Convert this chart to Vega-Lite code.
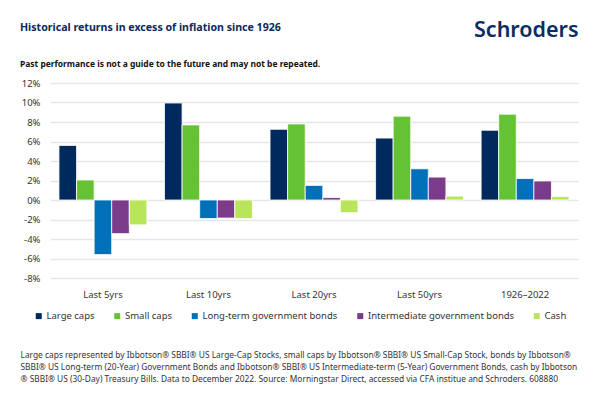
{
  "$schema": "https://vega.github.io/schema/vega-lite/v6.json",
  "width": 528,
  "height": 195,
  "autosize": {"type": "none"},
  "padding": {"left": 50, "top": 83, "right": 22, "bottom": 119},
  "background": "#ffffff",
  "config": {
    "font": "Noto Sans",
    "view": {"stroke": null}
  },
  "title": {
    "text": "Historical returns in excess of inflation since 1926",
    "subtitle": "Past performance is not a guide to the future and may not be repeated.",
    "anchor": "start",
    "frame": "group",
    "dx": -30,
    "dy": 64,
    "offset": 15,
    "font": "Noto Sans",
    "fontSize": 10.6,
    "fontWeight": "bold",
    "color": "#0b2a5b",
    "subtitleFont": "Noto Sans",
    "subtitleFontSize": 8.45,
    "subtitleFontWeight": "bold",
    "subtitleColor": "#111111",
    "subtitlePadding": 26
  },
  "data": {
    "values": [
      {"period": "Last 5yrs", "series": "Large caps", "value": 5.6},
      {"period": "Last 5yrs", "series": "Small caps", "value": 2.05},
      {"period": "Last 5yrs", "series": "Long-term government bonds", "value": -5.6},
      {"period": "Last 5yrs", "series": "Intermediate government bonds", "value": -3.45},
      {"period": "Last 5yrs", "series": "Cash", "value": -2.55},
      {"period": "Last 10yrs", "series": "Large caps", "value": 9.95},
      {"period": "Last 10yrs", "series": "Small caps", "value": 7.7},
      {"period": "Last 10yrs", "series": "Long-term government bonds", "value": -1.9},
      {"period": "Last 10yrs", "series": "Intermediate government bonds", "value": -1.85},
      {"period": "Last 10yrs", "series": "Cash", "value": -1.9},
      {"period": "Last 20yrs", "series": "Large caps", "value": 7.25},
      {"period": "Last 20yrs", "series": "Small caps", "value": 7.8},
      {"period": "Last 20yrs", "series": "Long-term government bonds", "value": 1.5},
      {"period": "Last 20yrs", "series": "Intermediate government bonds", "value": 0.25},
      {"period": "Last 20yrs", "series": "Cash", "value": -1.3},
      {"period": "Last 50yrs", "series": "Large caps", "value": 6.35},
      {"period": "Last 50yrs", "series": "Small caps", "value": 8.6},
      {"period": "Last 50yrs", "series": "Long-term government bonds", "value": 3.2},
      {"period": "Last 50yrs", "series": "Intermediate government bonds", "value": 2.35},
      {"period": "Last 50yrs", "series": "Cash", "value": 0.4},
      {"period": "1926–2022", "series": "Large caps", "value": 7.15},
      {"period": "1926–2022", "series": "Small caps", "value": 8.8},
      {"period": "1926–2022", "series": "Long-term government bonds", "value": 2.2},
      {"period": "1926–2022", "series": "Intermediate government bonds", "value": 1.95},
      {"period": "1926–2022", "series": "Cash", "value": 0.35}
    ]
  },
  "mark": {"type": "bar", "stroke": "#ffffff", "strokeWidth": 0.8},
  "encoding": {
    "x": {
      "field": "period",
      "type": "nominal",
      "sort": ["Last 5yrs", "Last 10yrs", "Last 20yrs", "Last 50yrs", "1926–2022"],
      "scale": {"paddingInner": 0.167, "paddingOuter": 0.085},
      "axis": {
        "title": [
          "Large caps represented by Ibbotson® SBBI® US Large-Cap Stocks, small caps by Ibbotson® SBBI® US Small-Cap Stock, bonds by Ibbotson®",
          "SBBI® US Long-term (20-Year) Government Bonds and Ibbotson® SBBI® US Intermediate-term (5-Year) Government Bonds, cash by Ibbotson",
          "® SBBI® US (30-Day) Treasury Bills. Data to December 2022. Source: Morningstar Direct, accessed via CFA institue and Schroders. 608880"
        ],
        "titleAnchor": "start",
        "titleAlign": "left",
        "titleX": -30,
        "titleY": 72,
        "titleBaseline": "top",
        "titleLineHeight": 12,
        "titleFont": "Noto Sans",
        "titleFontSize": 8.4,
        "titleFontWeight": "normal",
        "titleColor": "#333333",
        "labelAngle": 0,
        "labelFont": "Noto Sans",
        "labelFontSize": 9.5,
        "labelColor": "#333333",
        "labelPadding": 11,
        "ticks": false,
        "domain": false
      }
    },
    "xOffset": {
      "field": "series",
      "type": "nominal",
      "sort": ["Large caps", "Small caps", "Long-term government bonds", "Intermediate government bonds", "Cash"],
      "scale": {"paddingInner": 0, "paddingOuter": 0}
    },
    "y": {
      "field": "value",
      "type": "quantitative",
      "scale": {"domain": [-8, 12], "nice": false, "zero": false},
      "axis": {
        "values": [-8, -6, -4, -2, 0, 2, 4, 6, 8, 10, 12],
        "labelExpr": "datum.value + '%'",
        "labelFont": "Noto Sans",
        "labelFontSize": 9.5,
        "labelColor": "#333333",
        "labelPadding": 10,
        "ticks": false,
        "domain": false,
        "grid": true,
        "gridColor": "#e6e6e6",
        "gridWidth": 1.3,
        "title": "Schroders",
        "titleAngle": 0,
        "titleX": 528,
        "titleY": -47,
        "titleAlign": "right",
        "titleBaseline": "alphabetic",
        "titleFont": "Noto Sans",
        "titleFontSize": 21.5,
        "titleFontWeight": 600,
        "titleColor": "#0c2b63"
      }
    },
    "color": {
      "field": "series",
      "type": "nominal",
      "scale": {
        "domain": ["Large caps", "Small caps", "Long-term government bonds", "Intermediate government bonds", "Cash"],
        "range": ["#002a5e", "#65c234", "#0071b9", "#7b3a8a", "#b9e55b"]
      },
      "legend": {
        "title": null,
        "orient": "none",
        "direction": "horizontal",
        "legendX": -16,
        "legendY": 228,
        "symbolType": "square",
        "symbolSize": 36,
        "symbolStrokeWidth": 0,
        "labelFont": "Noto Sans",
        "labelFontSize": 9.5,
        "labelColor": "#333333",
        "labelOffset": 3,
        "columnPadding": 17.5
      }
    }
  }
}
